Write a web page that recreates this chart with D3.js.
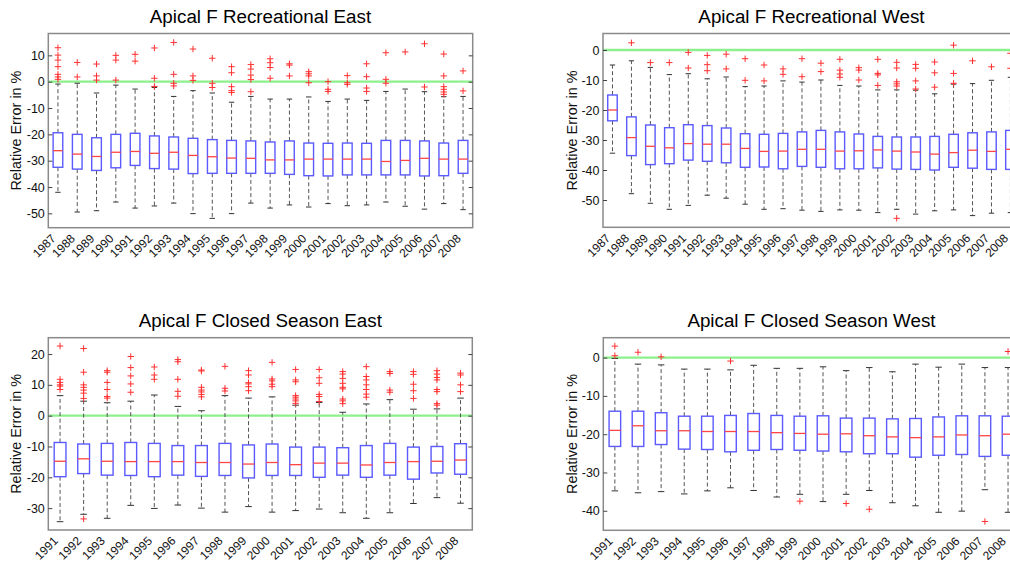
<!DOCTYPE html>
<html>
<head>
<meta charset="utf-8">
<script src="https://cdn.jsdelivr.net/npm/d3@7"></script>
<style>
  body { margin: 0; background: #fff; }
  svg { display: block; }
  text { font-family: "Liberation Sans", Arial, Helvetica, sans-serif; }
</style>
</head>
<body>
<svg id="chart" width="1010" height="565"></svg>
<script>
// ---- Recreational, East (1987-2008) ----
const recEastYears = d3.range(1987, 2009).map(String);
const recEastLow  = [-42.0, -49.5, -49.0, -45.7, -48.0, -47.2, -46.1, -50.1, -51.9, -50.1, -46.1, -48.0, -46.8, -47.6, -46.3, -47.1, -46.8, -45.7, -47.3, -48.4, -46.3, -48.6];
const recEastQ1   = [-32.5, -33.2, -33.7, -32.7, -31.8, -33.0, -33.2, -34.9, -34.8, -34.8, -34.8, -34.8, -35.2, -35.7, -35.8, -35.4, -35.4, -35.4, -35.4, -35.8, -35.7, -34.8];
const recEastMed  = [-26.2, -27.5, -28.4, -26.8, -26.5, -27.2, -26.8, -28.0, -28.5, -29.0, -29.1, -29.7, -29.7, -29.4, -29.4, -29.4, -29.4, -30.3, -29.9, -29.1, -29.4, -29.4];
const recEastQ3   = [-19.4, -20.0, -21.3, -20.0, -19.6, -20.6, -21.0, -21.5, -22.0, -22.3, -22.5, -22.9, -22.5, -23.3, -23.4, -23.3, -23.4, -22.3, -22.3, -22.5, -23.3, -22.3];
const recEastHigh = [-0.9, -0.6, -4.3, -1.3, -2.8, -2.2, -5.6, -3.4, -4.3, -7.8, -5.6, -6.6, -6.6, -5.8, -7.5, -6.6, -7.1, -3.7, -2.8, -3.8, -5.7, -5.6];
const recEastOut  = [
  [12.9, 10.1, 8.2, 5.7, 2.8, 1.8, 0.9], [7.3, 1.8], [6.7, 2.2, 0.6], [10.0, 8.2, 0.6],
  [10.4, 7.8], [12.8, 1.3, -1.8], [14.9, 2.8, -0.6, -1.6], [12.4, 2.2, 0.5],
  [8.9, -0.6, -2.2], [5.7, 3.4, -1.9, -3.4, -4.1], [6.5, 4.8, 2.5, 0.8, -3.8], [8.7, 7.2, 5.4, 1.3],
  [6.8, 6.3, 2.2], [3.8, 3.0, 2.2, -0.4], [0.0, -2.9, -3.7], [2.3, -0.4, -1.0],
  [6.8, 1.9, -2.4, -3.7], [11.0, 0.9, -0.6], [11.3], [14.4, -2.0],
  [10.5, 2.2, -1.9, -2.9, -3.9, -4.8], [4.1, -3.5]
];

// ---- Recreational, West (1987-2008) ----
const recWestYears = d3.range(1987, 2009).map(String);
const recWestLow  = [-34.4, -47.9, -51.1, -53.1, -51.8, -48.4, -49.4, -51.4, -53.1, -52.9, -53.4, -53.8, -53.3, -53.4, -54.2, -53.1, -54.7, -53.6, -53.3, -55.2, -54.4, -54.2];
const recWestQ1   = [-23.6, -35.2, -38.2, -37.9, -36.7, -37.1, -37.6, -39.1, -39.0, -39.6, -38.8, -39.1, -39.6, -39.6, -39.3, -39.7, -39.8, -40.0, -39.1, -39.4, -39.8, -39.8];
const recWestMed  = [-20.0, -29.2, -32.1, -32.6, -31.2, -31.4, -31.4, -32.8, -33.8, -33.7, -33.1, -33.1, -33.7, -33.6, -33.3, -33.7, -34.0, -34.7, -34.2, -33.4, -33.8, -33.1];
const recWestQ3   = [-15.0, -22.3, -25.0, -25.9, -24.9, -25.2, -26.0, -27.9, -28.1, -27.8, -27.3, -26.8, -27.3, -28.0, -28.8, -29.0, -29.0, -28.8, -28.1, -27.6, -27.3, -26.8];
const recWestHigh = [-5.0, -3.6, -5.8, -8.2, -7.9, -9.6, -9.0, -12.2, -12.0, -10.3, -10.7, -10.0, -11.8, -12.0, -13.3, -13.3, -13.4, -14.6, -11.4, -11.2, -10.1, -9.1];
const recWestOut  = [
  [], [2.4], [-4.2], [-4.2], [-0.8, -6.0], [-1.8, -4.9, -6.9], [-1.4, -6.3], [-2.9, -10.1],
  [-5.0, -10.3], [-6.3, -8.1], [-2.9, -8.9], [-4.4, -7.2], [-3.1, -6.7, -8.0, -9.1],
  [-5.9, -6.7, -10.0], [-3.1, -7.8, -8.3, -11.8], [-4.1, -6.0, -10.6, -11.3, -12.0, -56.1],
  [-4.8, -6.1, -10.3, -13.0], [-4.0, -7.6, -12.4], [1.6, -7.8, -11.1], [-3.6], [-5.6], [-1.1, -6.1]
];

// ---- Closed season, East (1991-2008) ----
const closedEastYears = d3.range(1991, 2009).map(String);
const closedEastLow  = [-34.4, -32.0, -33.3, -29.1, -30.1, -29.0, -30.0, -31.3, -29.5, -31.3, -30.8, -30.3, -31.5, -33.3, -31.5, -28.5, -26.6, -28.4];
const closedEastQ1   = [-19.8, -18.8, -19.3, -19.4, -19.8, -19.3, -19.7, -19.4, -20.2, -19.4, -19.4, -20.0, -19.3, -20.0, -19.3, -20.6, -18.6, -19.0];
const closedEastMed  = [-14.8, -14.0, -14.8, -14.9, -14.9, -14.9, -15.2, -15.2, -15.7, -15.2, -15.9, -15.4, -15.4, -16.0, -15.2, -14.9, -14.8, -14.4];
const closedEastQ3   = [-8.7, -9.2, -9.0, -8.7, -9.0, -9.7, -9.7, -9.0, -9.5, -9.2, -10.2, -10.2, -10.4, -9.7, -9.0, -10.2, -10.0, -9.1];
const closedEastHigh = [6.5, 4.7, 4.2, 4.7, 6.7, 3.0, 1.6, 6.5, 5.7, 6.1, 3.4, 4.3, 1.1, 3.8, 5.2, 2.1, 2.2, 5.7];
const closedEastOut  = [
  [22.6, 11.8, 10.8, 10.0, 9.6, 8.5], [21.8, 14.1, 10.0, 9.2, 8.3, 7.3, 5.6, -33.5],
  [14.6, 14.1, 10.8, 8.5, 6.2, 5.7], [19.2, 15.6, 12.9, 10.3, 7.6], [15.8, 13.2, 11.8],
  [18.2, 17.5, 11.8, 7.9, 6.3], [14.8, 14.5, 9.2, 8.3, 7.7, 6.9, 6.1], [16.0, 8.9, 8.0],
  [14.6, 13.2, 10.7, 10.3, 9.4, 8.1], [17.3, 11.9, 11.3, 10.2, 9.4],
  [15.0, 11.6, 11.0, 6.5, 6.0, 5.4, 4.8, 4.0], [15.0, 12.3, 10.5, 6.9, 6.2, 4.6],
  [14.3, 13.5, 12.1, 10.5, 9.2, 8.7, 5.4, 4.8, 3.9], [15.9, 12.7, 11.6, 10.0, 8.5, 7.0, 6.0],
  [14.3, 13.7, 8.3, 7.6], [14.3, 13.4, 10.2, 8.1, 5.6], [14.6, 13.5, 12.4, 11.6, 8.5, 7.8, 3.9, 3.4],
  [13.8, 13.2, 10.0, 7.8]
];

// ---- Closed season, West (1991-2008) ----
const closedWestYears = d3.range(1991, 2009).map(String);
const closedWestLow  = [-34.8, -35.3, -35.0, -35.6, -34.8, -34.0, -34.7, -36.4, -35.7, -37.6, -35.7, -34.7, -37.9, -38.7, -40.4, -40.1, -34.5, -40.4];
const closedWestQ1   = [-23.2, -23.2, -22.7, -23.9, -24.0, -24.6, -24.2, -24.0, -24.2, -24.4, -24.6, -25.1, -25.1, -26.0, -25.5, -25.3, -25.8, -25.5];
const closedWestMed  = [-19.0, -17.8, -19.1, -19.1, -19.3, -19.3, -19.3, -19.6, -19.8, -20.0, -19.9, -20.4, -20.7, -20.9, -20.7, -20.2, -20.4, -20.0];
const closedWestQ3   = [-14.0, -14.0, -14.4, -15.3, -15.3, -15.1, -14.6, -15.1, -15.3, -15.2, -15.8, -15.8, -16.0, -15.9, -15.5, -15.2, -15.2, -15.3];
const closedWestHigh = [-0.2, -1.7, -1.9, -3.0, -3.0, -3.2, -2.0, -2.8, -2.8, -2.4, -3.4, -2.6, -3.7, -1.7, -2.5, -1.7, -2.6, -2.6];
const closedWestOut  = [
  [3.0, 0.5], [1.4], [0.2], [], [], [-0.9], [], [], [-37.5], [], [-38.1], [-39.6],
  [], [], [], [], [-42.8], [1.6]
];

// Panel layout: frame rectangle (px), y extent and tick values
const panels = [
  { title: "Apical F Recreational East", years: recEastYears, low: recEastLow, q1: recEastQ1, med: recEastMed, q3: recEastQ3, high: recEastHigh, out: recEastOut,
    x: 48.3, y: 33.5, w: 424.4, h: 194.2, yMin: -55.45, yMax: 18.3, ticks: d3.range(-50, 11, 10), labelX: 20.7, titleY: 23 },
  { title: "Apical F Recreational West", years: recWestYears, low: recWestLow, q1: recWestQ1, med: recWestMed, q3: recWestQ3, high: recWestHigh, out: recWestOut,
    x: 603, y: 33.5, w: 416.9, h: 193.8, yMin: -59.1, yMax: 5.5, ticks: d3.range(-50, 1, 10), labelX: 576.5, titleY: 23 },
  { title: "Apical F Closed Season East", years: closedEastYears, low: closedEastLow, q1: closedEastQ1, med: closedEastMed, q3: closedEastQ3, high: closedEastHigh, out: closedEastOut,
    x: 48.3, y: 337.7, w: 424, h: 192.3, yMin: -37.1, yMax: 25.3, ticks: d3.range(-30, 21, 10), labelX: 20.7, titleY: 326.7 },
  { title: "Apical F Closed Season West", years: closedWestYears, low: closedWestLow, q1: closedWestQ1, med: closedWestMed, q3: closedWestQ3, high: closedWestHigh, out: closedWestOut,
    x: 603.3, y: 337.7, w: 416.3, h: 192.6, yMin: -45.1, yMax: 5.2, ticks: d3.range(-40, 1, 10), labelX: 576.5, titleY: 326.7 }
];

const svg = d3.select("#chart");

function drawPanel(p) {
  const g = svg.append("g");
  const x = d3.scaleBand().domain(p.years).range([p.x, p.x + p.w]).paddingInner(0).paddingOuter(0);
  const y = d3.scaleLinear().domain([p.yMin, p.yMax]).range([p.y + p.h, p.y]);
  const bw = x.bandwidth();
  const boxW = bw * 0.5;
  const capW = bw * 0.28;
  const cx = d => x(d) + bw / 2;

  // plot area
  g.append("rect").attr("x", p.x).attr("y", p.y).attr("width", p.w).attr("height", p.h)
    .attr("fill", "#fff");

  // zero reference line
  g.append("line")
    .attr("x1", p.x).attr("x2", p.x + p.w)
    .attr("y1", y(0)).attr("y2", y(0))
    .attr("stroke", "#8cf08c").attr("stroke-width", 2.3);

  const rows = p.years.map((yr, i) => ({
    yr, low: p.low[i], q1: p.q1[i], med: p.med[i], q3: p.q3[i], high: p.high[i], out: p.out[i]
  }));

  const box = g.selectAll("g.box").data(rows).join("g").attr("class", "box");

  // whiskers (dashed)
  box.append("line")
    .attr("x1", d => cx(d.yr)).attr("x2", d => cx(d.yr))
    .attr("y1", d => y(d.q3)).attr("y2", d => y(d.high))
    .attr("stroke", "#555").attr("stroke-width", 1).attr("stroke-dasharray", "4,2.6");
  box.append("line")
    .attr("x1", d => cx(d.yr)).attr("x2", d => cx(d.yr))
    .attr("y1", d => y(d.q1)).attr("y2", d => y(d.low))
    .attr("stroke", "#555").attr("stroke-width", 1).attr("stroke-dasharray", "4,2.6");

  // whisker caps
  ["high", "low"].forEach(k => {
    box.append("line")
      .attr("x1", d => cx(d.yr) - capW / 2).attr("x2", d => cx(d.yr) + capW / 2)
      .attr("y1", d => y(d[k])).attr("y2", d => y(d[k]))
      .attr("stroke", "#333").attr("stroke-width", 1);
  });

  // interquartile box
  box.append("rect")
    .attr("x", d => cx(d.yr) - boxW / 2)
    .attr("width", boxW)
    .attr("y", d => y(d.q3))
    .attr("height", d => y(d.q1) - y(d.q3))
    .attr("fill", "none").attr("stroke", "#5a5aff").attr("stroke-width", 1.4);

  // median
  box.append("line")
    .attr("x1", d => cx(d.yr) - boxW / 2).attr("x2", d => cx(d.yr) + boxW / 2)
    .attr("y1", d => y(d.med)).attr("y2", d => y(d.med))
    .attr("stroke", "#ff4545").attr("stroke-width", 1.3);

  // outliers as '+'
  box.selectAll("path.out").data(d => d.out.map(v => ({ yr: d.yr, v })))
    .join("path").attr("class", "out")
    .attr("transform", d => `translate(${cx(d.yr)},${y(d.v)})`)
    .attr("d", "M-3.2,0H3.2M0,-3.2V3.2")
    .attr("stroke", "#ff3030").attr("stroke-width", 1).attr("fill", "none");

  // frame
  g.append("rect").attr("x", p.x).attr("y", p.y).attr("width", p.w).attr("height", p.h)
    .attr("fill", "none").attr("stroke", "#8a8a8a").attr("stroke-width", 1.5);

  // y axis, ticks pointing inward on both sides
  const yl = g.append("g").attr("transform", `translate(${p.x},0)`)
    .call(d3.axisLeft(y).tickValues(p.ticks).tickSizeInner(-4).tickSizeOuter(0).tickPadding(3.5).tickFormat(d3.format("d")));
  yl.select(".domain").remove();
  yl.selectAll(".tick line").attr("stroke", "#444");
  yl.selectAll(".tick text").attr("font-size", 12.5).attr("fill", "#111")
    .attr("font-family", "'Liberation Sans', Arial, sans-serif")
    .text(d => d < 0 ? "-" + Math.abs(d) : String(d));

  const yr = g.append("g").attr("transform", `translate(${p.x + p.w},0)`)
    .call(d3.axisRight(y).tickValues(p.ticks).tickSizeInner(-4).tickSizeOuter(0).tickFormat(""));
  yr.select(".domain").remove();
  yr.selectAll(".tick line").attr("stroke", "#444");

  // x labels, rotated
  const xa = g.append("g").attr("transform", `translate(0,${p.y + p.h})`)
    .call(d3.axisBottom(x).tickSize(0).tickPadding(0));
  xa.select(".domain").remove();
  xa.selectAll(".tick text")
    .attr("font-size", 12).attr("fill", "#111")
    .attr("font-family", "'Liberation Sans', Arial, sans-serif")
    .attr("text-anchor", "end")
    .attr("transform", "translate(-7.5,5.5) rotate(-45)")
    .attr("x", 0).attr("y", 0).attr("dy", "0.72em");

  // title
  g.append("text")
    .attr("x", p.x + p.w / 2).attr("y", p.titleY)
    .attr("text-anchor", "middle").attr("font-size", 18.8).attr("fill", "#000")
    .text(p.title);

  // y label
  g.append("text")
    .attr("transform", `translate(${p.labelX},${p.y + p.h / 2}) rotate(-90)`)
    .attr("text-anchor", "middle").attr("font-size", 14.4).attr("fill", "#111")
    .text("Relative Error in %");
}

panels.forEach(drawPanel);
</script>
</body>
</html>
